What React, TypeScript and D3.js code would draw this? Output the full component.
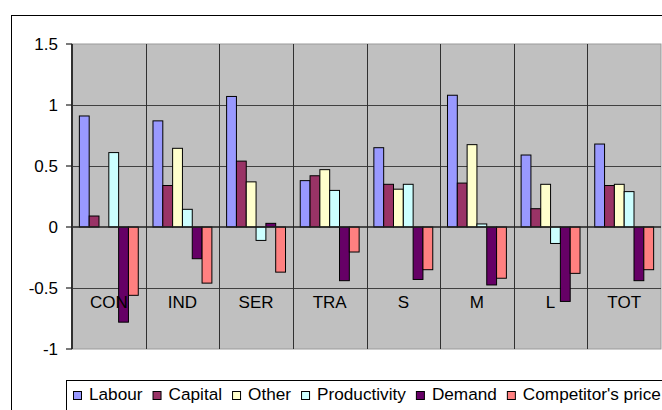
import React, { useEffect, useRef } from "react";
import * as d3 from "d3";

const categories = ["CON", "IND", "SER", "TRA", "S", "M", "L", "TOT"];
const seriesNames = ["Labour", "Capital", "Other", "Productivity", "Demand", "Competitor's price"];
const labour = [0.91, 0.87, 1.07, 0.38, 0.65, 1.08, 0.59, 0.68];
const capital = [0.09, 0.34, 0.54, 0.42, 0.35, 0.36, 0.15, 0.34];
const other = [0.0, 0.645, 0.37, 0.47, 0.31, 0.675, 0.35, 0.35];
const productivity = [0.61, 0.145, -0.11, 0.3, 0.35, 0.025, -0.135, 0.29];
const demand = [-0.78, -0.26, 0.03, -0.44, -0.43, -0.475, -0.61, -0.44];
const competitorsPrice = [-0.56, -0.46, -0.37, -0.205, -0.35, -0.42, -0.38, -0.35];
const seriesValues = [labour, capital, other, productivity, demand, competitorsPrice];
const seriesColors = ["#9999FF", "#993366", "#FFFFCC", "#CCFFFF", "#660066", "#FF8080"];
const yTicks = [-1, -0.5, 0, 0.5, 1, 1.5];

const FONT = "'Liberation Sans', Arial, sans-serif";

export default function App() {
  const ref = useRef<SVGSVGElement | null>(null);

  useEffect(() => {
    const svg = d3.select(ref.current);
    svg.selectAll("*").remove();

    const left = 72, right = 661, top = 44, bottom = 349;
    const y = d3.scaleLinear().domain([-1, 1.5]).range([bottom, top]);
    const x0 = d3.scaleBand<string>().domain(categories).range([left, right]).paddingInner(0).paddingOuter(0);
    const x1 = d3.scaleBand<string>().domain(seriesNames).range([0, x0.bandwidth()]).paddingInner(0).paddingOuter(0.75);

    // chart border
    svg.append("rect").attr("x", 11.5).attr("y", 15.5).attr("width", 800).attr("height", 500)
      .attr("fill", "#fff").attr("stroke", "#000").attr("stroke-width", 1);

    // plot area
    svg.append("rect").attr("x", left).attr("y", top).attr("width", right - left).attr("height", bottom - top)
      .attr("fill", "#C0C0C0").attr("stroke", "#9a9a9a").attr("stroke-width", 1);

    // horizontal gridlines
    svg.append("g").selectAll("line").data(yTicks.filter(t => t !== -1 && t !== 1.5 && t !== 0)).join("line")
      .attr("x1", left).attr("x2", right)
      .attr("y1", d => Math.round(y(d)) + 0.5).attr("y2", d => Math.round(y(d)) + 0.5)
      .attr("stroke", "#404040").attr("stroke-width", 1);

    // vertical category separators
    svg.append("g").selectAll("line").data(categories.slice(1)).join("line")
      .attr("x1", d => Math.round(x0(d)!) + 0.5).attr("x2", d => Math.round(x0(d)!) + 0.5)
      .attr("y1", top).attr("y2", bottom)
      .attr("stroke", "#303030").attr("stroke-width", 1);

    // bars
    seriesNames.forEach((name, si) => {
      svg.append("g").selectAll("rect").data(seriesValues[si]).join("rect")
        .attr("x", (_, i) => x0(categories[i])! + x1(name)!)
        .attr("width", x1.bandwidth())
        .attr("y", d => y(Math.max(0, d)))
        .attr("height", d => Math.abs(y(d) - y(0)))
        .attr("fill", seriesColors[si])
        .attr("stroke", "#000").attr("stroke-width", 1);
    });

    // zero axis
    svg.append("line").attr("x1", left).attr("x2", right)
      .attr("y1", y(0)).attr("y2", y(0)).attr("stroke", "#202020").attr("stroke-width", 1.5);

    // y axis
    svg.append("line").attr("x1", left).attr("x2", left).attr("y1", top).attr("y2", bottom)
      .attr("stroke", "#303030").attr("stroke-width", 2);
    svg.append("g").selectAll("line").data(yTicks).join("line")
      .attr("x1", left - 6).attr("x2", left).attr("y1", d => y(d)).attr("y2", d => y(d))
      .attr("stroke", "#202020").attr("stroke-width", 1.2);
    svg.append("g").selectAll("text").data(yTicks).join("text")
      .attr("x", 58).attr("y", d => y(d)).attr("dy", "0.36em")
      .attr("text-anchor", "end").attr("font-family", FONT).attr("font-size", 17).attr("fill", "#000")
      .text(d => String(d));

    // category labels
    svg.append("g").selectAll("text").data(categories).join("text")
      .attr("x", d => x0(d)! + x0.bandwidth() / 2).attr("y", 308)
      .attr("text-anchor", "middle").attr("font-family", FONT).attr("font-size", 17).attr("fill", "#000")
      .text(d => d);

    // legend
    svg.append("rect").attr("x", 66.5).attr("y", 380.5).attr("width", 700).attr("height", 100)
      .attr("fill", "#fff").attr("stroke", "#000").attr("stroke-width", 1);
    let lx = 73;
    seriesNames.forEach((name, si) => {
      svg.append("rect").attr("x", lx + 0.5).attr("y", 391.5).attr("width", 8).attr("height", 8)
        .attr("fill", seriesColors[si]).attr("stroke", "#000").attr("stroke-width", 1);
      const t = svg.append("text").attr("x", lx + 16).attr("y", 400)
        .attr("font-family", FONT).attr("font-size", 17.2).attr("fill", "#000").text(name);
      const w = (t.node() as SVGTextElement).getComputedTextLength();
      lx = lx + 16 + w + 10;
    });
  }, []);

  return (
    <svg ref={ref} width={662} height={410}
      style={{ position: "absolute", left: 0, top: 0, display: "block", background: "#fff" }} />
  );
}
